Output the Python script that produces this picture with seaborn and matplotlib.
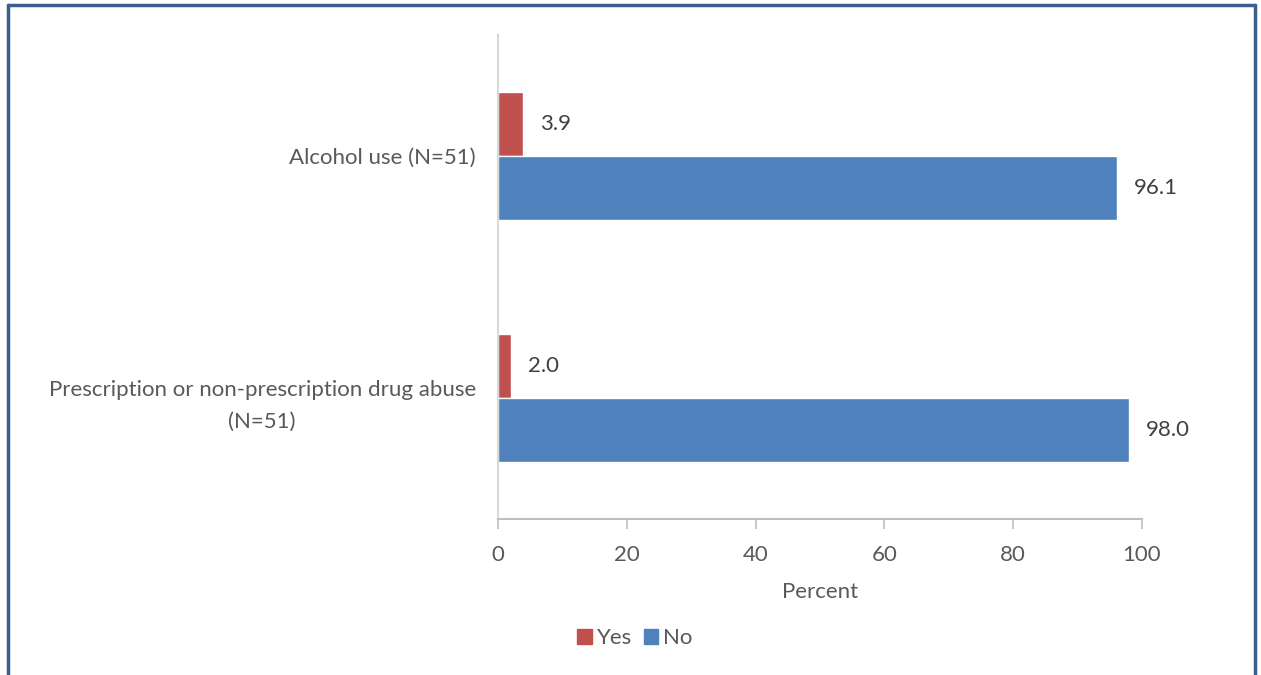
import matplotlib
matplotlib.use("Agg")
import matplotlib.pyplot as plt
import seaborn as sns
import pandas as pd
from matplotlib.lines import Line2D

categories = ["Alcohol use (N=51)", "Prescription or non-prescription drug abuse\n(N=51)"]
series_names = ["Yes", "No"]
yes_values = [3.9, 2.0]
no_values = [96.1, 98.0]
x_ticks = [0, 20, 40, 60, 80, 100]

colors = {"Yes": "#C0504D", "No": "#4F81BD"}
text_color = "#595959"
FS = 16

sns.set_theme(style="white")
plt.rcParams["font.family"] = ["Lato", "DejaVu Sans"]

rows = []
for c, y, n in zip(categories, yes_values, no_values):
    rows.append({"cat": c, "resp": "Yes", "val": y})
    rows.append({"cat": c, "resp": "No", "val": n})
df = pd.DataFrame(rows)

fig = plt.figure(figsize=(12.61, 6.75), dpi=100)
ax = fig.add_axes([498/1261, 1 - 519/675, (1142-498)/1261, (519-35)/675])

sns.barplot(data=df, y="cat", x="val", hue="resp", order=categories,
            hue_order=series_names, palette=colors, orient="h",
            width=0.525, ax=ax, legend=False, saturation=1)

for cont in ax.containers:
    ax.bar_label(cont, labels=[f"{v:.1f}" for v in cont.datavalues],
                 padding=12, fontsize=FS, color="#404040")

ax.set_xlim(0, 100)
ax.set_ylim(1.5, -0.5)
ax.set_xticks(x_ticks)
ax.set_xticklabels([str(t) for t in x_ticks])
ax.set_xlabel("Percent", fontsize=FS, color=text_color, labelpad=12)
ax.set_ylabel("")
ax.tick_params(axis="x", labelsize=FS, colors="#BFBFBF", labelcolor=text_color,
               bottom=True, length=7, width=1.2, direction="out", pad=12)
ax.tick_params(axis="y", labelsize=FS, labelcolor=text_color, left=False, pad=10)
for lab in ax.get_yticklabels():
    lab.set_multialignment("center")
    lab.set_linespacing(1.75)

for s in ["top", "right"]:
    ax.spines[s].set_visible(False)
ax.spines["left"].set_color("#D9D9D9")
ax.spines["left"].set_linewidth(1.5)
ax.spines["bottom"].set_color("#BFBFBF")
ax.spines["bottom"].set_linewidth(1.5)

handles = [plt.Rectangle((0, 0), 1, 1, color=colors[s]) for s in series_names]
fig.legend(handles, series_names, loc="center", bbox_to_anchor=(635/1261, 1 - 638/675),
           ncol=2, frameon=False, fontsize=FS, handlelength=0.65, handleheight=0.65,
           handletextpad=0.22, columnspacing=0.55, labelcolor=text_color)

# outer frame
frame_c = "#3B5E8C"
fig.add_artist(Line2D([8/1261, 8/1261], [0, 1 - 5/675], color=frame_c, lw=2.5, transform=fig.transFigure))
fig.add_artist(Line2D([8/1261, 1255/1261], [1 - 5/675, 1 - 5/675], color=frame_c, lw=2.5, transform=fig.transFigure))
fig.add_artist(Line2D([1255/1261, 1255/1261], [0, 1 - 5/675], color=frame_c, lw=2.5, transform=fig.transFigure))

fig.savefig("out.png", dpi=100)
